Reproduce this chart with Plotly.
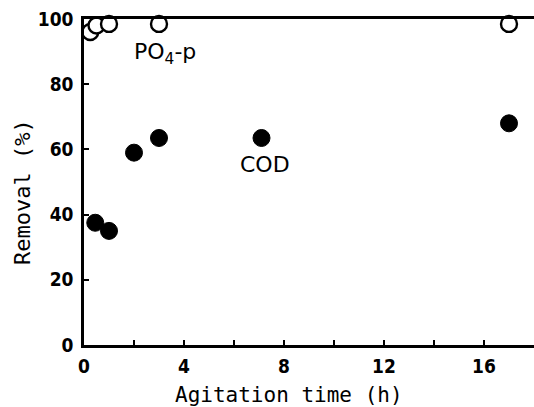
import plotly.graph_objects as go

# Data
po4_time = [0.25, 0.5, 1.0, 3.0, 17.0]
po4_removal = [96, 98, 98.5, 98.5, 98.5]
cod_time = [0.45, 1.0, 2.0, 3.0, 7.1, 17.0]
cod_removal = [37.5, 35, 59, 63.5, 63.5, 68]

x_ticks = [0, 4, 8, 12, 16]
y_ticks = [0, 20, 40, 60, 80, 100]

fig = go.Figure()
fig.add_trace(go.Scatter(
    x=po4_time, y=po4_removal, mode="markers", cliponaxis=False,
    marker=dict(symbol="circle", size=16, color="white",
                line=dict(color="black", width=2.4)),
    showlegend=False))
fig.add_trace(go.Scatter(
    x=cod_time, y=cod_removal, mode="markers", cliponaxis=False,
    marker=dict(symbol="circle", size=17, color="black",
                line=dict(color="black", width=1)),
    showlegend=False))

ann_font = dict(family="DejaVu Sans", size=22, color="black")
fig.add_annotation(x=3.25, y=89.5, text="PO<sub>4</sub>-p", showarrow=False, font=ann_font)
fig.add_annotation(x=7.25, y=55.5, text="COD", showarrow=False, font=ann_font)

# Axis titles placed as paper-anchored text
fig.add_annotation(x=0.456, y=-0.152, xref="paper", yref="paper", text="Agitation time (h)",
                   showarrow=False, xanchor="center", yanchor="middle",
                   font=dict(family="DejaVu Sans Mono", size=21, color="black"))
fig.add_annotation(x=-0.138, y=0.469, xref="paper", yref="paper", text="Removal (%)",
                   showarrow=False, xanchor="center", yanchor="middle", textangle=-90,
                   font=dict(family="DejaVu Sans Mono", size=22, color="black"))

tickfont = dict(family="DejaVu Sans Condensed, DejaVu Sans", size=19, color="black",
                weight="bold")
fig.update_layout(
    width=534, height=407,
    margin=dict(l=84, r=0, t=19, b=62),
    plot_bgcolor="white", paper_bgcolor="white",
    xaxis=dict(range=[0, 18], tickvals=x_ticks, ticks="inside", ticklen=5,
               tickwidth=1.5, tickcolor="black", showline=True, linecolor="black",
               linewidth=2.5, mirror=True, showgrid=False, zeroline=False,
               tickfont=tickfont, ticklabelstandoff=2,
               minor=dict(tickvals=[2, 6, 10, 14], ticks="inside",
                          ticklen=5, tickcolor="black")),
    yaxis=dict(range=[0, 100], tickvals=y_ticks, ticks="inside", ticklen=5,
               tickwidth=1.5, tickcolor="black", showline=True, linecolor="black",
               linewidth=2.5, showgrid=False, zeroline=False, tickfont=tickfont,
               ticklabelstandoff=4),
)
fig.write_html("out.html")
